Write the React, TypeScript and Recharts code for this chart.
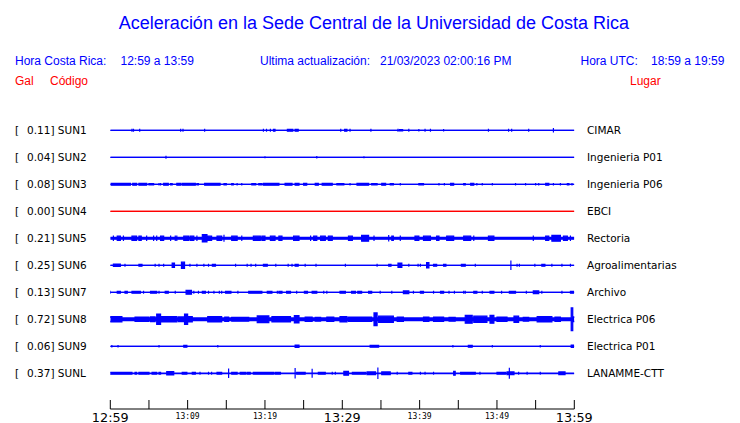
import React from 'react'
import { ComposedChart, Area, XAxis, YAxis } from 'recharts'

const BLUE = '#0000ff'
const RED = '#ff0000'

const stations = ['SUN1', 'SUN2', 'SUN3', 'SUN4', 'SUN5', 'SUN6', 'SUN7', 'SUN8', 'SUN9', 'SUNL']
const peaks = ['0.11', '0.04', '0.08', '0.00', '0.21', '0.25', '0.13', '0.72', '0.06', '0.37']
const places = [
  'CIMAR', 'Ingenieria P01', 'Ingenieria P06', 'EBCI', 'Rectoria',
  'Agroalimentarias', 'Archivo', 'Electrica P06', 'Electrica P01', 'LANAMME-CTT',
]
const timeLabels = ['12:59', '13:09', '13:19', '13:29', '13:39', '13:49', '13:59']
const tickMinutes = [0, 5, 10, 15, 20, 25, 30, 35, 40, 45, 50, 55, 60]

// steady background noise of each trace (half thickness, screen px)
const noiseFloor = [0, 0, 0, 0, 0.9, 0, 0, 1.35, 0, 0.3]

// bursts: [start minute, end minute, half amplitude (px)]
type Burst = [number, number, number]

const sun1: Burst[] = [
  [2.8, 2.8, 1.5], [3.0, 3.0, 1.5], [3.8, 3.8, 1.5], [9.1, 9.1, 1.5], [9.4, 9.4, 1.5],
  [12.2, 12.2, 1.5], [19.8, 19.8, 1.5], [20.2, 20.2, 1.5], [20.7, 20.7, 1.5], [21.1, 21.3, 1.5],
  [22.9, 23.1, 1.5], [23.2, 23.6, 1.5], [23.9, 24.3, 1.5], [29.8, 29.8, 1.5], [30.3, 30.6, 1.5],
  [31.0, 31.0, 1.5], [33.7, 33.7, 1.5], [37.2, 37.2, 1.5], [37.4, 37.8, 1.2], [38.6, 38.6, 1.5],
  [39.9, 39.9, 1.2], [40.7, 40.7, 1.5], [41.4, 41.4, 1.5], [43.1, 43.1, 1.2], [48.9, 48.9, 1.5],
  [51.5, 51.5, 1.5], [51.9, 51.9, 1.5], [54.1, 54.1, 1.5], [57.3, 57.3, 2.2],
]
const sun2: Burst[] = [[7.2, 7.2, 1.5], [20.0, 20.0, 1.0], [26.7, 26.7, 1.2], [32.8, 32.8, 1.0]]
const sun3: Burst[] = [
  [0.1, 2.6, 1.5], [2.9, 3.4, 1.5], [3.7, 4.7, 1.5], [5.0, 5.6, 1.3], [6.3, 6.3, 1.3], [6.5, 6.5, 1.3],
  [6.9, 7.5, 1.5], [7.8, 8.0, 1.3], [8.6, 9.1, 1.5], [9.3, 11.0, 1.5], [11.2, 11.4, 1.3],
  [12.2, 14.2, 1.5], [14.7, 15.0, 1.3], [15.7, 15.9, 1.3], [16.4, 16.4, 1.3], [17.0, 17.0, 1.3],
  [18.3, 18.8, 1.3], [19.2, 19.6, 1.3], [19.8, 21.8, 1.5], [22.6, 23.5, 1.5], [23.9, 24.4, 1.5],
  [25.0, 25.4, 1.5], [26.5, 26.9, 1.5], [27.4, 28.7, 1.5], [29.3, 30.2, 1.3], [31.0, 31.0, 1.3],
  [31.9, 33.4, 1.5], [33.8, 34.5, 1.3], [35.1, 35.6, 1.5], [36.2, 36.6, 1.3], [37.5, 37.5, 1.3],
  [39.9, 40.5, 1.3], [42.5, 42.5, 1.3], [43.2, 43.2, 1.3], [44.0, 44.4, 1.5], [45.7, 45.9, 1.3],
  [46.6, 47.0, 1.5], [47.4, 47.4, 1.3], [48.1, 48.1, 1.3], [49.4, 49.4, 1.3], [52.4, 52.4, 1.3],
  [53.7, 53.7, 1.3], [55.0, 55.0, 1.3], [55.4, 55.4, 1.3], [56.3, 56.7, 1.5], [57.3, 57.3, 1.3],
  [58.2, 58.2, 1.3], [59.1, 59.3, 1.3], [59.7, 59.7, 1.3],
]
const sun4: Burst[] = []
const sun5: Burst[] = [
  [0.4, 0.4, 2.7], [0.9, 1.3, 2.7], [1.7, 1.7, 2.7], [2.8, 3.4, 2.7], [3.7, 4.0, 2.7], [4.7, 4.7, 2.7],
  [5.6, 5.6, 2.7], [6.0, 6.0, 2.7], [6.5, 6.9, 2.7], [7.8, 7.8, 2.7], [8.4, 8.4, 2.7], [8.6, 8.6, 2.7],
  [9.5, 10.1, 2.7], [10.3, 10.8, 2.7], [11.2, 11.2, 2.7], [11.9, 12.5, 4.2], [12.6, 13.1, 2.7],
  [13.8, 14.4, 2.7], [14.7, 14.7, 3.5], [15.7, 16.4, 2.7], [17.0, 17.0, 2.7], [18.5, 19.4, 2.7],
  [19.6, 20.0, 2.7], [20.7, 21.3, 2.7], [21.8, 22.2, 2.7], [23.7, 24.4, 2.7], [25.9, 25.9, 2.7],
  [26.3, 26.7, 2.7], [27.2, 27.8, 2.7], [28.2, 28.7, 2.7], [30.8, 31.3, 2.7], [32.5, 33.4, 3.5],
  [34.1, 34.1, 2.7], [36.0, 36.0, 3.2], [36.4, 36.6, 2.7], [37.5, 37.5, 2.7], [39.4, 39.9, 2.7],
  [40.5, 41.4, 2.7], [42.2, 42.5, 2.7], [43.5, 44.4, 2.7], [45.7, 46.6, 2.7], [47.0, 47.0, 2.7],
  [48.9, 49.6, 2.7], [54.7, 54.7, 2.7], [56.3, 56.7, 2.7], [57.1, 58.2, 3.5], [58.6, 59.1, 2.7],
  [59.5, 59.5, 2.7],
]
const sun6: Burst[] = [
  [0.4, 1.3, 1.8], [1.9, 1.9, 1.5], [3.7, 4.1, 1.5], [5.8, 5.8, 1.5], [6.3, 6.3, 1.5], [6.9, 6.9, 1.5],
  [8.0, 8.3, 2.8], [9.2, 9.6, 3.7], [10.3, 10.3, 1.5], [11.2, 11.2, 1.5], [12.1, 12.1, 1.5],
  [12.7, 12.7, 1.5], [13.2, 13.6, 1.5], [16.2, 16.2, 1.5], [17.7, 17.7, 1.5], [18.2, 18.2, 1.5],
  [18.8, 18.8, 1.5], [19.8, 20.3, 1.5], [21.4, 21.4, 1.5], [23.0, 23.0, 1.5], [23.5, 23.5, 1.5],
  [23.9, 24.3, 1.5], [25.2, 25.2, 1.5], [26.6, 26.6, 1.5], [30.4, 30.4, 1.5], [34.5, 34.5, 1.5],
  [36.0, 36.3, 1.5], [37.2, 37.7, 2.8], [38.6, 38.6, 1.5], [39.8, 39.8, 1.5], [40.1, 40.1, 1.5],
  [40.9, 41.2, 3.2], [41.8, 42.2, 1.5], [43.1, 43.4, 1.5], [45.4, 45.9, 1.5], [47.2, 47.2, 1.5],
  [51.8, 51.8, 4.7], [52.6, 52.6, 1.5], [52.9, 52.9, 1.5], [54.9, 54.9, 1.5], [55.8, 56.2, 1.5],
  [57.1, 57.1, 1.5], [58.4, 58.4, 1.5], [59.5, 59.5, 1.5],
]
const sun7: Burst[] = [
  [0.0, 0.0, 1.5], [0.9, 1.3, 1.5], [1.9, 2.2, 1.5], [2.8, 3.9, 1.5], [4.3, 4.3, 1.5], [5.2, 6.0, 1.5],
  [6.3, 6.3, 1.5], [7.1, 7.5, 1.5], [8.4, 8.4, 1.5], [9.8, 10.5, 2.5], [10.8, 10.8, 1.5],
  [11.4, 11.4, 1.5], [11.9, 12.3, 1.5], [12.7, 12.7, 1.5], [13.4, 13.4, 1.5], [14.1, 14.1, 1.5],
  [14.4, 14.4, 1.5], [14.9, 15.6, 1.5], [16.5, 16.5, 1.5], [17.9, 19.6, 1.5], [20.3, 20.9, 1.5],
  [21.6, 21.6, 1.5], [21.8, 22.2, 1.5], [22.8, 23.3, 1.5], [24.1, 24.1, 1.5], [25.1, 25.5, 1.5],
  [26.1, 26.7, 1.5], [27.6, 27.6, 1.5], [28.0, 28.0, 1.5], [29.7, 30.4, 1.5], [31.2, 31.7, 1.5],
  [32.0, 32.5, 1.5], [33.4, 33.8, 1.5], [34.9, 34.9, 1.5], [36.4, 36.4, 1.5], [37.9, 38.6, 2.0],
  [39.2, 39.2, 1.5], [40.1, 40.5, 1.5], [41.8, 41.8, 1.5], [42.7, 43.1, 1.5], [43.8, 43.8, 1.5],
  [44.5, 44.5, 1.5], [45.7, 45.7, 1.5], [45.9, 45.9, 1.5], [47.0, 47.4, 1.5], [48.1, 48.1, 1.5],
  [49.1, 49.6, 1.5], [50.6, 50.6, 1.5], [51.6, 52.4, 1.5], [53.8, 53.8, 1.5], [54.7, 55.4, 2.0],
  [55.8, 55.8, 1.5], [58.4, 58.4, 1.5], [59.5, 59.9, 1.5],
]
const sun8: Burst[] = [
  [0.0, 1.5, 3.3], [3.2, 5.0, 2.8], [5.2, 5.8, 3.0], [6.0, 6.5, 5.8], [6.6, 8.6, 3.3], [8.8, 9.5, 3.0],
  [9.6, 10.0, 5.8], [10.1, 10.6, 3.3], [12.6, 14.4, 3.3], [14.8, 15.3, 2.8], [15.7, 17.9, 2.5],
  [19.0, 20.5, 4.0], [20.9, 23.3, 3.3], [23.8, 24.4, 4.3], [25.2, 26.1, 2.8], [26.5, 27.2, 2.5],
  [28.0, 28.9, 2.8], [29.7, 30.6, 3.3], [30.8, 33.8, 2.8], [34.1, 34.5, 7.0], [34.7, 36.6, 3.7],
  [37.1, 37.9, 2.8], [40.5, 41.2, 2.8], [41.8, 43.1, 2.8], [43.8, 44.6, 2.5], [45.9, 46.8, 4.5],
  [47.0, 48.7, 3.7], [49.1, 49.6, 4.5], [50.0, 51.3, 2.8], [52.2, 52.8, 3.7], [53.4, 54.1, 2.5],
  [55.2, 57.1, 3.3], [57.5, 58.2, 2.8], [59.6, 59.8, 12.0], [59.8, 60.0, 3.0],
]
const sun9: Burst[] = [
  [0.2, 0.2, 1.2], [1.0, 1.0, 1.2], [6.3, 6.3, 1.2], [9.5, 9.9, 1.5], [13.9, 13.9, 1.2],
  [23.9, 24.4, 1.8], [33.6, 34.7, 1.5], [44.3, 44.3, 1.2], [46.3, 46.8, 1.5], [49.4, 49.4, 1.2],
  [55.6, 55.6, 1.2], [59.6, 59.9, 1.8],
]
const sunL: Burst[] = [
  [0.0, 2.8, 1.5], [3.2, 3.4, 1.5], [3.7, 5.0, 1.5], [5.4, 6.0, 1.5], [6.3, 6.5, 1.5], [7.3, 8.2, 2.2],
  [9.3, 9.9, 1.5], [10.6, 11.0, 1.5], [11.6, 11.6, 1.5], [12.7, 12.7, 1.5], [13.1, 13.1, 1.5],
  [13.8, 14.4, 1.5], [15.3, 15.3, 4.8], [15.7, 16.4, 1.5], [16.8, 17.5, 1.5], [17.7, 18.1, 1.5],
  [18.5, 21.1, 1.5], [21.3, 22.0, 1.5], [23.9, 23.9, 5.2], [24.1, 25.2, 1.5], [26.1, 26.1, 4.5],
  [26.9, 27.8, 1.5], [28.7, 28.7, 1.5], [29.1, 29.1, 1.5], [30.2, 30.8, 2.5], [31.3, 33.0, 1.5],
  [33.2, 34.3, 2.0], [34.6, 34.6, 5.8], [35.1, 36.2, 2.0], [37.1, 37.1, 1.5], [38.6, 39.0, 1.5],
  [40.1, 40.1, 1.5], [40.7, 40.7, 1.5], [41.8, 41.8, 1.5], [44.4, 44.6, 2.5], [45.3, 47.2, 1.5],
  [47.8, 47.8, 1.5], [50.0, 51.1, 1.5], [51.3, 52.2, 2.0], [51.6, 51.6, 5.5], [52.8, 52.8, 1.5],
  [53.9, 53.9, 1.5], [55.6, 55.6, 1.5], [58.0, 58.8, 2.0],
]
const bursts = [sun1, sun2, sun3, sun4, sun5, sun6, sun7, sun8, sun9, sunL]

const W = 740
const H = 423
const ROW = 27 // px between traces
const STROKE = 1.2
const PLOT_LEFT = 110.3
const PLOT_RIGHT = 574.3
const PLOT_TOP = 116.8
const AXIS_Y = 409
const Y_DOMAIN: [number, number] = [-0.5, -0.5 + (AXIS_Y - PLOT_TOP) / ROW]

// turn the burst list of one trace into a range series (lo/hi around its row);
// wide bursts lose half a stroke so the outline does not make them taller
const buildTrace = (row: number, list: Burst[], floor: number) => {
  const f = floor / ROW
  const calm = [row - f, row + f]
  const pts: { t: number; v: number[] }[] = [{ t: 0, v: calm }]
  ;[...list].sort((a, b) => a[0] - b[0]).forEach(([s, e, a]) => {
    const amp = e > s ? a - STROKE / 2 : a
    const h = Math.max(amp, floor) / ROW
    pts.push({ t: s, v: calm }, { t: s, v: [row - h, row + h] }, { t: e, v: [row - h, row + h] }, { t: e, v: calm })
  })
  pts.push({ t: 60, v: calm })
  return pts
}

const traces = stations.map((_, i) => buildTrace(i, bursts[i], noiseFloor[i]))

const TimeTick = (props: any) => {
  const { x, y, payload } = props
  const v = payload.value as number
  const major = v % 30 === 0
  const labelled = v % 10 === 0
  return (
    <g>
      <line x1={x} x2={x} y1={y - 9} y2={y} stroke="#000" strokeWidth={1} />
      {labelled && (
        <text
          x={x}
          y={major ? y + 12.5 : y + 9.6}
          textAnchor="middle"
          fontFamily={major ? '"DejaVu Sans", sans-serif' : '"DejaVu Sans Mono", monospace'}
          fontSize={major ? 12.8 : 8}
          fill="#000"
        >
          {timeLabels[v / 10]}
        </text>
      )}
    </g>
  )
}

const StationTick = (props: any) => {
  const { y, payload } = props
  const i = payload.value as number
  const font = { fontFamily: '"DejaVu Sans", sans-serif', fontSize: 10.5, fill: '#000' }
  return (
    <g>
      <text x={15} y={y + 3.8} {...font}>[</text>
      <text x={27} y={y + 3.8} {...font}>{`${peaks[i]}] ${stations[i]}`}</text>
      <text x={587} y={y + 3.8} {...font}>{places[i]}</text>
    </g>
  )
}

const txt = (left: number, top: number, color: string, size = 12): React.CSSProperties => ({
  position: 'absolute',
  left,
  top,
  color,
  fontSize: size,
  lineHeight: `${size}px`,
  whiteSpace: 'pre',
})

export default function App() {
  return (
    <div
      style={{
        position: 'absolute',
        left: 0,
        top: 0,
        width: W,
        height: H,
        background: '#fff',
        fontFamily: '"Liberation Sans", Arial, sans-serif',
        overflow: 'hidden',
      }}
    >
      <div style={{ ...txt(4, 13.5, BLUE, 18), width: W, textAlign: 'center' }}>
        Aceleración en la Sede Central de la Universidad de Costa Rica
      </div>
      <div style={txt(15, 54.6, BLUE)}>Hora Costa Rica:</div>
      <div style={txt(120.5, 54.6, BLUE)}>12:59 a 13:59</div>
      <div style={txt(260, 54.6, BLUE)}>Ultima actualización:</div>
      <div style={txt(380, 54.6, BLUE)}>21/03/2023 02:00:16 PM</div>
      <div style={txt(580.5, 54.6, BLUE)}>Hora UTC:</div>
      <div style={txt(651, 54.6, BLUE)}>18:59 a 19:59</div>
      <div style={txt(15, 74.8, RED)}>Gal</div>
      <div style={txt(50, 74.8, RED)}>Código</div>
      <div style={txt(630, 74.8, RED)}>Lugar</div>

      <div style={{ position: 'absolute', left: 0, top: 0 }}>
        <ComposedChart
          width={W}
          height={H}
          margin={{ top: PLOT_TOP, right: W - PLOT_RIGHT, bottom: 0, left: 0 }}
        >
          <XAxis
            type="number"
            dataKey="t"
            domain={[0, 60]}
            ticks={tickMinutes}
            interval={0}
            allowDataOverflow
            height={H - AXIS_Y}
            tickLine={false}
            tickSize={0}
            tickMargin={0}
            axisLine={{ stroke: '#000', strokeWidth: 1 }}
            tick={<TimeTick />}
          />
          <YAxis
            type="number"
            domain={Y_DOMAIN}
            reversed
            allowDataOverflow
            ticks={stations.map((_, i) => i)}
            interval={0}
            width={PLOT_LEFT}
            axisLine={false}
            tickLine={false}
            tick={<StationTick />}
          />
          {traces.map((pts, i) => (
            <Area
              key={stations[i]}
              data={pts}
              dataKey="v"
              type="linear"
              stroke={stations[i] === 'SUN4' ? RED : BLUE}
              fill={stations[i] === 'SUN4' ? RED : BLUE}
              fillOpacity={1}
              strokeWidth={STROKE}
              dot={false}
              activeDot={false}
              isAnimationActive={false}
            />
          ))}
        </ComposedChart>
      </div>
    </div>
  )
}
